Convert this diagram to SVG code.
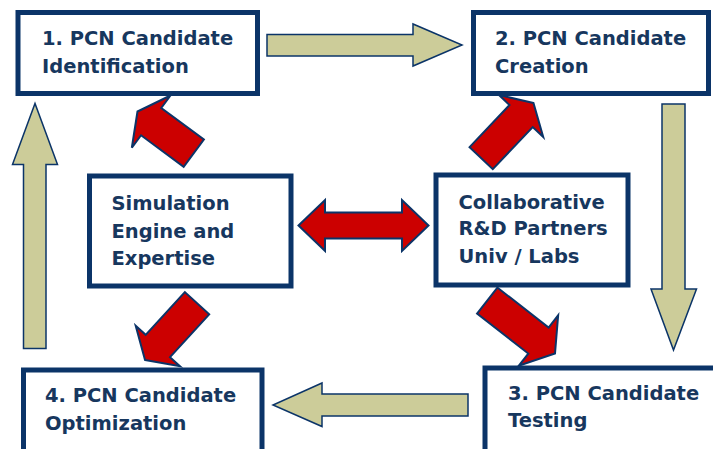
<svg xmlns="http://www.w3.org/2000/svg" width="713" height="449" viewBox="0 0 713 449">
<style>
.box{fill:#ffffff;stroke:#0b3468;stroke-width:5}
.t{font-family:"DejaVu Sans","Liberation Sans",sans-serif;font-weight:bold;font-size:19.5px;fill:#17375e}
.flow{fill:#cccc99;stroke:#0b3468;stroke-width:1.5;stroke-linejoin:miter}
.red{fill:#cc0000;stroke:#0b3468;stroke-width:2;stroke-linejoin:miter}
</style>
<rect width="713" height="449" fill="#ffffff"/>
<g id="connectors">
<polygon class="flow" points="267,34.5 413,34.5 413,24 462,45 413,66 413,56 267,56"/>
<polygon class="flow" points="662,104 685,104 685,289 696.5,289 673.5,350 651,289 662,289"/>
<polygon class="flow" points="468,394 322,394 322,383 273,405 322,426.5 322,416 468,416"/>
<polygon class="flow" points="23.5,348.5 46,348.5 46,164.5 57.5,164.5 35,103.5 12.5,164.5 23.5,164.5"/>
<polygon class="red" points="298.5,225.5 325,200 325,212.5 402,212.5 402,200 428.5,225.5 402,251 402,238.5 325,238.5 325,251"/>
<polygon class="red" transform="translate(137.5,111.5) rotate(216.5)" points="0,0 -17,-32.5 -17,-17 -70,-17 -70,17 -17,17 -17,32.5"/>
<polygon class="red" transform="translate(533.5,103) rotate(-46.5)" points="0,0 -18,-30.5 -18,-16 -76,-16 -76,16 -18,16 -18,30.5"/>
<polygon class="red" transform="translate(145,360) rotate(132.5)" points="0,0 -19,-30 -19,-16.5 -77,-16.5 -77,16.5 -19,16.5 -19,30"/>
<polygon class="red" transform="translate(555,353.5) rotate(38)" points="0,0 -21,-32 -21,-16.5 -86,-16.5 -86,16.5 -21,16.5 -21,32"/>
</g>
<g id="node1">
<rect class="box" x="18" y="12.5" width="239.5" height="81"/>
<text class="t" x="42" y="45">1. PCN Candidate</text>
<text class="t" x="42" y="73">Identification</text>
</g>
<g id="node2">
<rect class="box" x="473.5" y="12.5" width="235" height="81"/>
<text class="t" x="495" y="45">2. PCN Candidate</text>
<text class="t" x="495" y="73">Creation</text>
</g>
<g id="node3">
<rect class="box" x="485" y="368" width="240" height="100"/>
<text class="t" x="508" y="400">3. PCN Candidate</text>
<text class="t" x="508" y="427">Testing</text>
</g>
<g id="node4">
<rect class="box" x="23.5" y="370" width="238.5" height="100"/>
<text class="t" x="45" y="402">4. PCN Candidate</text>
<text class="t" x="45" y="430">Optimization</text>
</g>
<g id="sim">
<rect class="box" x="89.5" y="176" width="201.5" height="110"/>
<text class="t" x="111.5" y="210">Simulation</text>
<text class="t" x="111.5" y="237.5">Engine and</text>
<text class="t" x="111.5" y="265">Expertise</text>
</g>
<g id="collab">
<rect class="box" x="436" y="175" width="192" height="110"/>
<text class="t" x="458.5" y="208.5">Collaborative</text>
<text class="t" x="458.5" y="235">R&amp;D Partners</text>
<text class="t" x="458.5" y="262.5">Univ / Labs</text>
</g>
</svg>
